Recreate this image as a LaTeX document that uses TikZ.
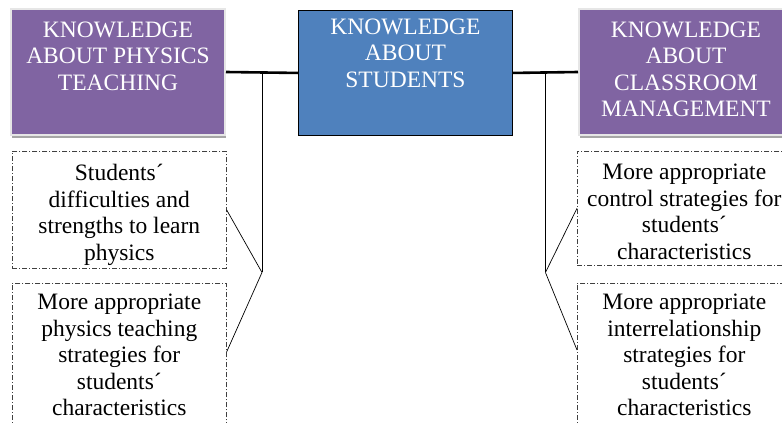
\documentclass[tikz,border=0pt]{standalone}
\usepackage{fontspec}
\setmainfont{Liberation Serif}
\usepackage{xcolor}
\definecolor{Violet}{HTML}{8064A2}
\definecolor{Steel}{HTML}{4F81BD}
\definecolor{Frame}{HTML}{E6E6E6}
\definecolor{Shade}{HTML}{A6A6A6}
\definecolor{DashGray}{HTML}{404040}
\usetikzlibrary{positioning, calc, shadows}
\tikzset{
  head/.style={
    rectangle, minimum width=#1, minimum height=126pt,
    inner sep=0pt, anchor=north west
  },
  head/.default=214pt,
  kbox/.style={head, fill=Violet, draw=Frame, line width=2pt,
    drop shadow={shadow xshift=0.5pt, shadow yshift=-2.5pt, fill=Shade, opacity=1}},
  sbox/.style={head, minimum height=125pt, fill=Steel, draw=black, line width=0.9pt},
  note/.style={
    rectangle, minimum width=#1, inner sep=0pt, anchor=north west,
    draw=DashGray, line width=0.6pt, dash pattern=on 5pt off 2pt on 1pt off 2pt
  },
  note/.default=214pt,
  txt/.style={anchor=north, align=center, inner sep=0pt, font=\fontsize{23.5}{26.5}\selectfont},
  link/.style={line width=2.6pt, black},
  twig/.style={line width=0.7pt, black},
}

\begin{document}
\begin{tikzpicture}[x=1pt, y=-1pt]

\useasboundingbox (0,0) rectangle (782,423);

% Knowledge boxes
\node[kbox] at (10,8) (kpt) {};
\node[sbox] at (298,10) (kst) {};
\node[kbox] at (578,8) (kcm) {};

\node[txt, white] at ([yshift=-13.5pt]kpt.north) (kpt-t) {KNOWLEDGE\\ABOUT PHYSICS\\TEACHING};
\node[txt, white] at ([yshift=-8.5pt]kst.north) (kst-t) {KNOWLEDGE\\ABOUT\\STUDENTS};
\node[txt, white] at ([yshift=-13.5pt]kcm.north) (kcm-t) {KNOWLEDGE\\ABOUT\\CLASSROOM\\MANAGEMENT};

% Dashed boxes below
\node[note, minimum height=117pt] at (12,151) (dif) {};
\node[note, minimum height=160pt] at (12,283) (pts) {};
\node[note, minimum height=114pt] at (577,151) (ctl) {};
\node[note, minimum height=160pt] at (577,283) (irs) {};

\node[txt] at ([yshift=-13pt]dif.north) (dif-t) {Students´\\difficulties and\\strengths to learn\\physics};
\node[txt] at ([yshift=-11pt]pts.north) (pts-t) {More appropriate\\physics teaching\\strategies for\\students´\\characteristics};
\node[txt] at ([yshift=-13pt]ctl.north) (ctl-t) {More appropriate\\control strategies for\\students´\\characteristics};
\node[txt] at ([yshift=-11pt]irs.north) (irs-t) {More appropriate\\interrelationship\\strategies for\\students´\\characteristics};

% Connectors
\coordinate (ml) at ($(kpt.east)!0.5!(kst.west)$);
\coordinate (jl) at ($(ml)+(0,200)$);
\coordinate (mr) at ($(kst.east)!0.5!(kcm.west)$);
\coordinate (jr) at ($(mr)+(0,200)$);

\draw[link] (kpt.east) -- (kst.west);
\draw[link] (kst.east) -- (kcm.west);

\draw[twig] (ml) -- (jl);
\draw[twig] (jl) -- (dif.east);
\draw[twig] (jl) -- ([yshift=-69pt]pts.north east);

\draw[twig] (mr) -- (jr);
\draw[twig] (jr) -- (ctl.west);
\draw[twig] (jr) -- ([yshift=-67pt]irs.north west);

\end{tikzpicture}
\end{document}
